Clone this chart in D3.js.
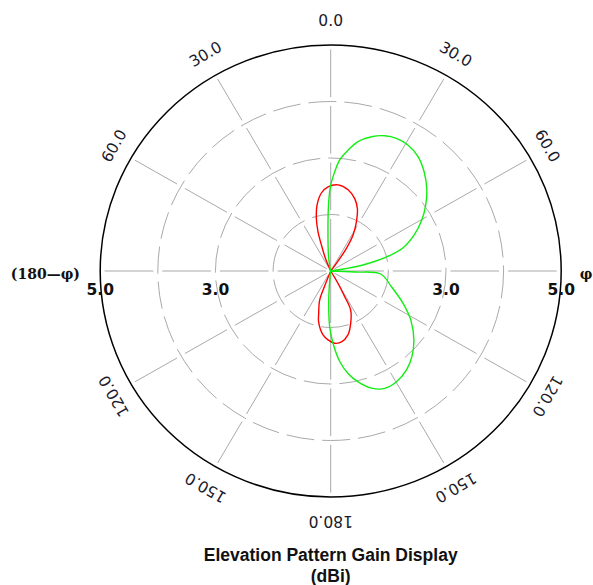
<!DOCTYPE html>
<html>
<head>
<meta charset="utf-8">
<script src="https://cdn.jsdelivr.net/npm/d3@7"></script>
<style>
  body { margin: 0; background: #fff; }
  svg { display: block; }
</style>
</head>
<body>
<script>
// angle ticks (deg, clockwise from top) and their labels
const angleTicks = [0, 30, 60, 90, 120, 150, 180, 210, 240, 270, 300, 330];
const angleLabels = ["0.0", "30.0", "60.0", null, "120.0", "150.0", "180.0", "150.0", "120.0", null, "60.0", "30.0"];
const gainRings = [2, 3, 4];
const gainLabels = [3, 5];

// red pattern (deg, dBi) - values at or below 1 sit on the centre
const redAngles = [-177.8, -173.3, -167, -164.5, -159.6, -158.5, -157, -90, -25, -22.2, -19.3, -17.6, -14.9, -11.5, -6.7, -1.8,
  4.8, 11.8, 17.9, 22.7, 27.1, 31.3, 34.2, 36, 38, 90, 148, 149.8, 151.9, 153.3, 159.5, 165.2, 171.5, 176.9];
const redGain = [2.22, 2.14, 1.93, 1.78, 1.55, 1.30, 1.0, 0, 1.0, 1.24, 1.49, 1.73, 1.97, 2.19, 2.39, 2.49,
  2.53, 2.47, 2.35, 2.20, 1.98, 1.75, 1.49, 1.2, 1.0, 0, 1.0, 1.25, 1.52, 1.77, 1.99, 2.17, 2.27, 2.28];

// green pattern (deg, dBi)
const greenAngles = [-172, -90, -12, -8.8, -3.3, -1.6, 0, 2.3, 4.5, 8.0, 11.7, 16.6, 21.4, 25.9, 31.0, 36.8, 42.7, 49.0,
  54.7, 60.3, 66.3, 72.1, 75.8, 79.0, 80.9, 82, 87, 91.5, 92.5, 93.5, 104.8, 114.5, 122.0, 130.2, 137.1, 143.1,
  149.8, 155.7, 161.2, 166.4, 170.6, 174.4, 178.2, 181, 183.5, 186];
const greenGain = [0, 0, 1.0, 1.23, 1.82, 2.23, 2.52, 2.76, 2.97, 3.16, 3.34, 3.48, 3.57, 3.61, 3.60, 3.53, 3.39, 3.21,
  3.02, 2.82, 2.58, 2.31, 1.98, 1.60, 1.25, 1.0, 0, 1.0, 1.42, 1.87, 2.09, 2.38, 2.64, 2.89, 3.07, 3.19,
  3.27, 3.28, 3.19, 3.02, 2.84, 2.61, 2.28, 1.99, 1.57, 1.16];

const width = 593, height = 585;
const cx = 330.7, cy = 271;
const R = 230.5, ky = 226 / 230.5;
const labelR = 250;
const rad = Math.PI / 180;

const r = d3.scaleLinear().domain([1, 5]).range([0, R]).clamp(true);

const svg = d3.select('body').append('svg')
  .attr('width', width)
  .attr('height', height);

svg.append('rect').attr('width', width).attr('height', height).attr('fill', '#fff');

const plot = svg.append('g')
  .attr('transform', `translate(${cx},${cy}) scale(1,${ky})`);

// dashed rings
plot.selectAll('circle.ring')
  .data(gainRings)
  .join('circle')
  .attr('class', 'ring')
  .attr('r', d => r(d))
  .attr('fill', 'none')
  .attr('stroke', '#a8a8a8')
  .attr('stroke-width', 1)
  .attr('stroke-dasharray', '28,8');

// dashed spokes, gaps centred on the rings
const step = r(2) - r(1), gap = 9;
plot.selectAll('line.spoke')
  .data(angleTicks)
  .join('line')
  .attr('class', 'spoke')
  .attr('x1', 0).attr('y1', 0)
  .attr('x2', d => r(5) * Math.sin(d * rad))
  .attr('y2', d => -r(5) * Math.cos(d * rad))
  .attr('stroke', '#a8a8a8')
  .attr('stroke-width', 1)
  .attr('stroke-dasharray', `${step - gap},${gap}`)
  .attr('stroke-dashoffset', -gap / 2);

// outer circle
plot.append('circle')
  .attr('r', r(5))
  .attr('fill', 'none')
  .attr('stroke', '#000')
  .attr('stroke-width', 1.5);

const radial = d3.lineRadial()
  .angle(d => d[0] * rad)
  .radius(d => r(d[1]))
  .curve(d3.curveCatmullRomClosed.alpha(0.5));

const series = [
  { color: '#ff0000', pts: d3.zip(redAngles, redGain) },
  { color: '#11ee11', pts: d3.zip(greenAngles, greenGain) }
];

plot.selectAll('path.pattern')
  .data(series)
  .join('path')
  .attr('class', 'pattern')
  .attr('d', d => radial(d.pts))
  .attr('fill', 'none')
  .attr('stroke', d => d.color)
  .attr('stroke-width', 1.4);

// angle labels, rotated along the rim
const angLab = angleTicks.map((a, i) => ({ a, t: angleLabels[i] })).filter(d => d.t);
svg.selectAll('text.ang')
  .data(angLab)
  .join('text')
  .attr('class', 'ang')
  .attr('transform', d => {
    const x = cx + labelR * Math.sin(d.a * rad);
    const y = cy - labelR * Math.cos(d.a * rad);
    return `translate(${x},${y}) rotate(${d.a})`;
  })
  .attr('text-anchor', 'middle')
  .attr('dominant-baseline', 'central')
  .attr('font-family', 'DejaVu Sans, Verdana, sans-serif')
  .attr('font-size', 15.5)
  .attr('fill', '#1a1a2a')
  .text(d => d.t);

// gain labels on the horizontal axis
const gainLab = [];
gainLabels.forEach(v => { gainLab.push({ v, s: -1 }); gainLab.push({ v, s: 1 }); });
svg.selectAll('text.gain')
  .data(gainLab)
  .join('text')
  .attr('class', 'gain')
  .attr('x', d => cx + d.s * r(d.v))
  .attr('y', 295)
  .attr('text-anchor', 'middle')
  .attr('font-family', 'DejaVu Sans, sans-serif')
  .attr('font-weight', 'bold')
  .attr('font-size', 15.5)
  .attr('fill', '#111')
  .text(d => d.v.toFixed(1));

svg.append('text')
  .attr('x', 80).attr('y', 279)
  .attr('text-anchor', 'end')
  .attr('font-family', 'DejaVu Serif, serif')
  .attr('font-weight', 'bold')
  .attr('font-size', 14)
  .attr('fill', '#111')
  .text('(180\u2014\u03c6)');

svg.append('text')
  .attr('x', 586).attr('y', 279)
  .attr('text-anchor', 'middle')
  .attr('font-family', 'DejaVu Serif, serif')
  .attr('font-weight', 'bold')
  .attr('font-size', 14)
  .attr('fill', '#111')
  .text('\u03c6');

// title
svg.append('text')
  .attr('x', cx).attr('y', 561)
  .attr('text-anchor', 'middle')
  .attr('font-family', 'Liberation Sans, Arial, sans-serif')
  .attr('font-weight', 'bold')
  .attr('font-size', 17.5)
  .attr('fill', '#111')
  .text('Elevation Pattern Gain Display');

svg.append('text')
  .attr('x', cx).attr('y', 582)
  .attr('text-anchor', 'middle')
  .attr('font-family', 'Liberation Sans, Arial, sans-serif')
  .attr('font-weight', 'bold')
  .attr('font-size', 17.5)
  .attr('fill', '#111')
  .text('(dBi)');
</script>
</body>
</html>
